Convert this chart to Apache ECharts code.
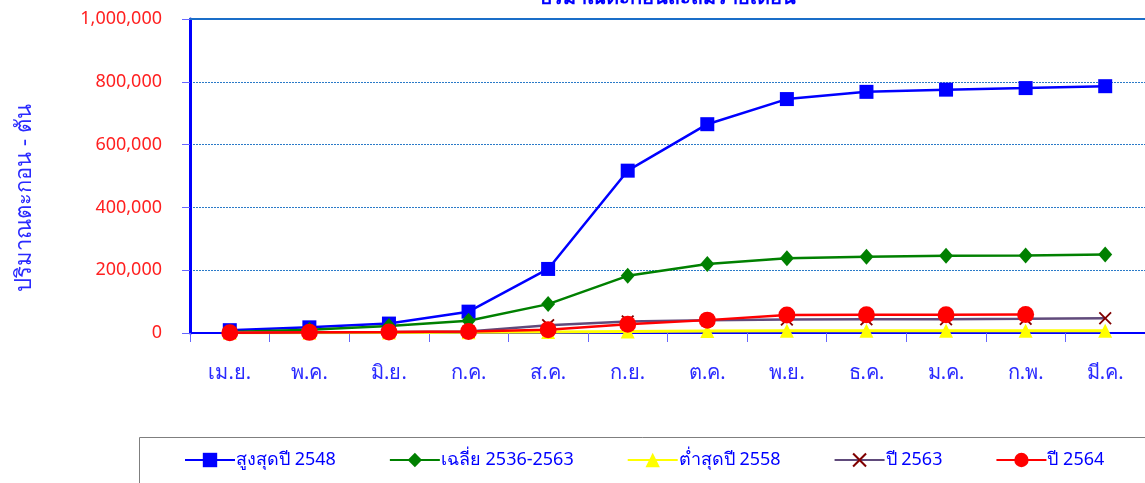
<!DOCTYPE html>
<html><head><meta charset="utf-8">
<script src="https://cdn.jsdelivr.net/npm/echarts@6/dist/echarts.min.js"></script>
<style>html,body{margin:0;padding:0;background:#fff;}#c{width:1145px;height:483px;}</style>
</head><body><div id="c"></div>
<script>
const categories = ['เม.ย.','พ.ค.','มิ.ย.','ก.ค.','ส.ค.','ก.ย.','ต.ค.','พ.ย.','ธ.ค.','ม.ค.','ก.พ.','มี.ค.'];
const yTicks = [0, 200000, 400000, 600000, 800000, 1000000];
const max2548 = [9000, 18000, 30000, 68000, 204000, 517000, 665000, 745000, 768000, 775000, 780000, 786000];
const avg2536_2563 = [3000, 10000, 22000, 39000, 92000, 182000, 220000, 238000, 243000, 246000, 247000, 250000];
const min2558 = [500, 1000, 1500, 2000, 3000, 5000, 6000, 7000, 7000, 7500, 7500, 7500];
const y2563 = [1000, 2000, 3000, 5000, 25000, 37000, 41000, 43000, 43500, 44000, 45000, 47000];
const y2564 = [1000, 2000, 3000, 5000, 10000, 28000, 41000, 57000, 58000, 58000, 59000, null];
const names = ['สูงสุดปี 2548','เฉลี่ย 2536-2563','ต่ำสุดปี 2558','ปี 2563','ปี 2564'];

const FONT = 'Tahoma, "Noto Sans", "DejaVu Sans", sans-serif';
const crossPath = 'path://M0,1 L1,0 L5,4 L9,0 L10,1 L6,5 L10,9 L9,10 L5,6 L1,10 L0,9 L4,5 Z';

const chart = echarts.init(document.getElementById('c'), null, {renderer:'canvas'});
chart.setOption({
  animation: false,
  backgroundColor: '#ffffff',
  textStyle: {fontFamily: FONT},
  title: {
    text: 'ปริมาณตะกอนสะสมรายเดือน',
    left: 662, top: -17, textAlign: 'center',
    textStyle: {fontSize: 20, fontWeight: 'bold', color: '#0000ff', fontFamily: FONT}
  },
  graphic: [{
    type: 'rect', left: 137, top: 435, silent: true,
    shape: {width: 1100, height: 100},
    style: {fill: 'none', stroke: '#7f7f7f', lineWidth: 1}
  }],
  grid: {left: 190, top: 19, width: 960, height: 314, containLabel: false},
  legend: {
    left: 137, top: 435,
    orient: 'horizontal',
    data: names,
    itemWidth: 50, itemHeight: 18, itemGap: 53,
    padding: [16, 4, 10, 47],
    textStyle: {fontSize: 18, color: '#0000ff', fontFamily: FONT, padding: [0,0,0,-4]}
  },
  xAxis: [{
    type: 'category', data: categories, boundaryGap: true,
    axisLine: {show: true, onZero: false, lineStyle: {color: '#0000ff', width: 2}},
    axisTick: {show: true, length: 9, inside: false, lineStyle: {color: '#6666ff', width: 1}},
    axisLabel: {fontSize: 20, color: '#2a2aff', margin: 30, fontFamily: FONT},
    splitLine: {show: false}
  }, {
    type: 'category', data: categories, position: 'top',
    axisLine: {show: true, onZero: false, lineStyle: {color: '#1a6ec8', width: 2}},
    axisTick: {show: false}, axisLabel: {show: false}, splitLine: {show: false}
  }],
  yAxis: {
    type: 'value', min: yTicks[0], max: yTicks[yTicks.length-1], interval: 200000,
    name: 'ปริมาณตะกอน - ตัน', nameLocation: 'middle', nameGap: 154, nameRotate: 90,
    nameTextStyle: {fontSize: 22, color: '#2a2aff', fontFamily: FONT, padding: [0, 44, 0, 0]},
    axisLine: {show: true, lineStyle: {color: '#0000ff', width: 3}},
    axisTick: {show: true, length: 8, lineStyle: {color: '#6666ff', width: 1}},
    axisLabel: {fontSize: 18, color: '#ff2020', margin: 28, fontFamily: FONT,
      formatter: v => v.toLocaleString('en-US')},
    splitLine: {show: true, showMaxLine: false, showMinLine: false,
      lineStyle: {color: '#2a7ac8', width: 1, type: [2, 1]}}
  },
  series: [
    {name: names[0], type: 'line', data: max2548, symbol: 'rect', symbolSize: 14,
      lineStyle: {color: '#0000ff', width: 2.5}, itemStyle: {color: '#0000ff'}},
    {name: names[1], type: 'line', data: avg2536_2563, symbol: 'diamond', symbolSize: [14, 16],
      lineStyle: {color: '#008000', width: 2.5}, itemStyle: {color: '#008000'}},
    {name: names[2], type: 'line', data: min2558, symbol: 'triangle', symbolSize: 14,
      lineStyle: {color: '#ffff00', width: 3}, itemStyle: {color: '#ffff00'}},
    {name: names[3], type: 'line', data: y2563, symbol: crossPath, symbolSize: 13,
      lineStyle: {color: '#604a7b', width: 2.5}, itemStyle: {color: '#800000'}},
    {name: names[4], type: 'line', data: y2564, symbol: 'circle', symbolSize: 17,
      lineStyle: {color: '#ff0000', width: 2.5}, itemStyle: {color: '#ff0000'}}
  ]
});
</script></body></html>
